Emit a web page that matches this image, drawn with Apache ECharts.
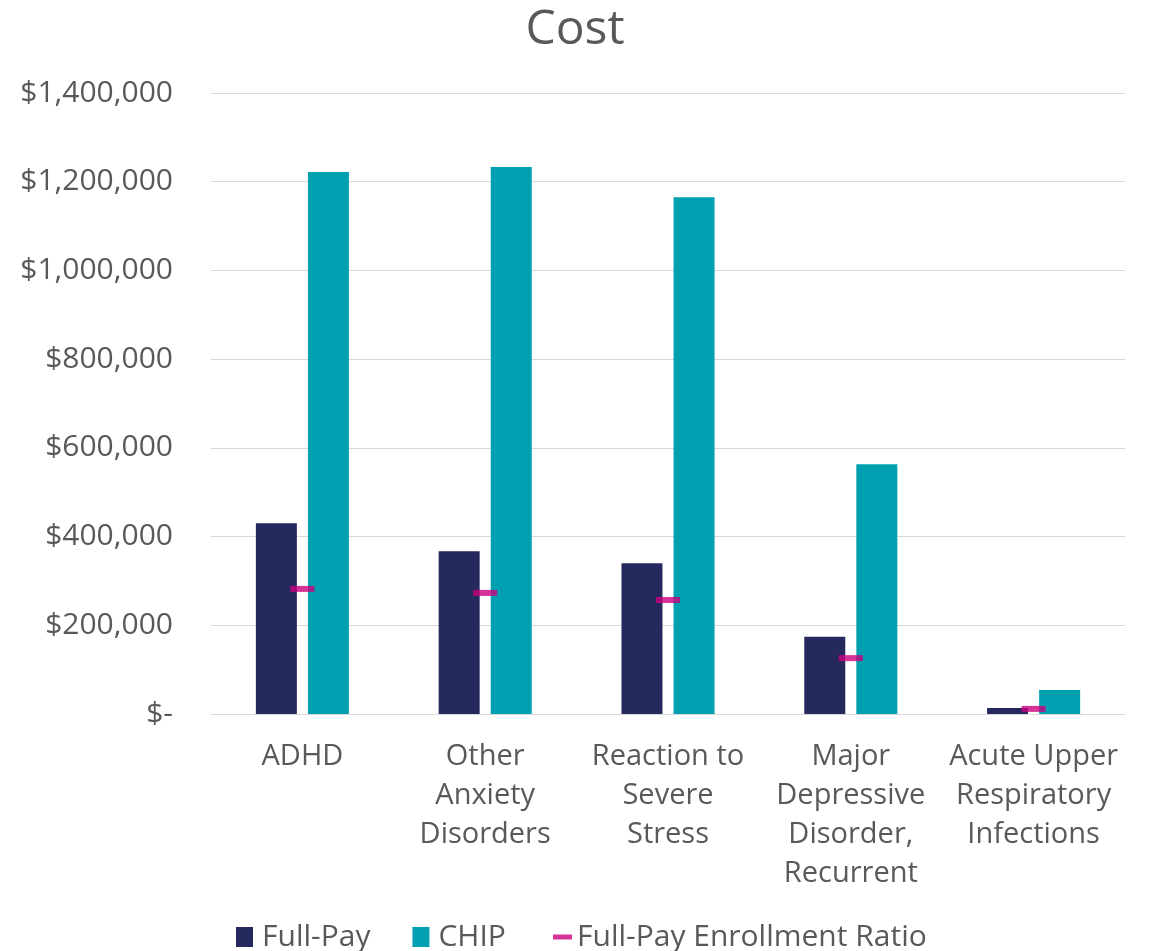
<!DOCTYPE html>
<html>
<head>
<meta charset="utf-8">
<title>Cost</title>
<script src="https://cdn.jsdelivr.net/npm/echarts@6/dist/echarts.min.js"></script>
<style>
  html, body { margin: 0; padding: 0; background: #ffffff; }
  #chart { width: 1150px; height: 951px; }
</style>
</head>
<body>
<div id="chart"></div>
<script>
// Diagnoses shown along the x axis
const categories = [
  'ADHD',
  'Other\nAnxiety\nDisorders',
  'Reaction to\nSevere\nStress',
  'Major\nDepressive\nDisorder,\nRecurrent',
  'Acute Upper\nRespiratory\nInfections'
];

// Cost per diagnosis, in dollars
const fullPay = [430000, 367000, 340000, 174000, 13500];
const chip = [1222000, 1233000, 1165000, 563000, 54000];
const fullPayEnrollmentRatio = [282000, 273000, 257000, 126000, 11500];

// Y axis range and step
const yMin = 0;
const yMax = 1400000;
const yStep = 200000;

const textColor = '#595959';
const axisFont = 'Open Sans';

const chart = echarts.init(document.getElementById('chart'), null, { renderer: 'canvas' });

chart.setOption({
  animation: false,
  backgroundColor: '#ffffff',
  title: {
    text: 'Cost',
    left: 'center',
    top: 1,
    textStyle: { color: textColor, fontFamily: axisFont, fontSize: 48, fontWeight: 'normal' }
  },
  grid: { left: 211, right: 25, top: 93, bottom: 237 },
  legend: [
    {
      data: ['Full-Pay', 'CHIP'],
      left: 231,
      top: 917,
      icon: 'rect',
      itemWidth: 17,
      itemHeight: 20,
      itemGap: 42,
      textStyle: { color: textColor, fontFamily: axisFont, fontSize: 30, padding: [0, 0, 0, 4] }
    },
    {
      data: ['Full-Pay Enrollment Ratio'],
      left: 548,
      top: 917,
      icon: 'rect',
      itemWidth: 19,
      itemHeight: 5,
      textStyle: { color: textColor, fontFamily: axisFont, fontSize: 30 }
    }
  ],
  xAxis: {
    type: 'category',
    data: categories,
    axisLine: { lineStyle: { color: '#d9d9d9', width: 1 } },
    axisTick: { show: false },
    axisLabel: {
      color: textColor,
      fontFamily: axisFont,
      fontSize: 29,
      lineHeight: 39,
      margin: 23,
      interval: 0
    }
  },
  yAxis: {
    type: 'value',
    min: yMin,
    max: yMax,
    interval: yStep,
    axisLine: { show: false },
    axisTick: { show: false },
    splitLine: { lineStyle: { color: '#d9d9d9', width: 1 } },
    axisLabel: {
      color: textColor,
      fontFamily: axisFont,
      fontSize: 30,
      margin: 38,
      formatter: v => v === 0 ? '$-' : '$' + v.toLocaleString('en-US')
    }
  },
  series: [
    {
      name: 'Full-Pay',
      type: 'bar',
      data: fullPay,
      barWidth: 41,
      barGap: '27%',
      itemStyle: { color: '#25295E' }
    },
    {
      name: 'CHIP',
      type: 'bar',
      data: chip,
      barWidth: 41,
      itemStyle: { color: '#00A0B0' }
    },
    {
      name: 'Full-Pay Enrollment Ratio',
      type: 'scatter',
      data: fullPayEnrollmentRatio,
      symbol: 'rect',
      symbolSize: [24, 6],
      itemStyle: { color: '#CC0080' },
      z: 5
    }
  ]
});
</script>
</body>
</html>
